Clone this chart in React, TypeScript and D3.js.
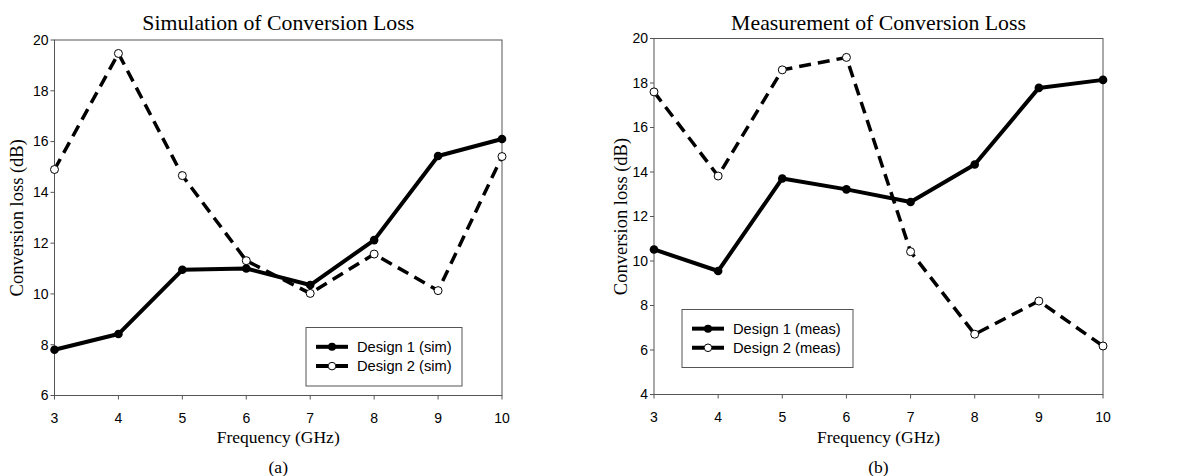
import * as d3 from "d3";

const freqs = [3, 4, 5, 6, 7, 8, 9, 10];

const simDesign1 = [7.8, 8.42, 10.95, 11.0, 10.35, 12.12, 15.43, 16.1];
const simDesign2 = [14.9, 19.47, 14.66, 11.31, 10.02, 11.57, 10.13, 15.41];

const measDesign1 = [10.52, 9.55, 13.71, 13.22, 12.65, 14.34, 17.78, 18.14];
const measDesign2 = [17.6, 13.82, 18.59, 19.15, 10.42, 6.71, 8.2, 6.18];

const simTicks = [6, 8, 10, 12, 14, 16, 18, 20];
const measTicks = [4, 6, 8, 10, 12, 14, 16, 18, 20];

const sansFont = "'Liberation Sans', Arial, sans-serif";
const serifFont = "'Liberation Serif', 'Times New Roman', serif";
const axisColor = "#555";

type PanelProps = {
  left: number;
  right: number;
  top: number;
  bottom: number;
  yDomain: [number, number];
  yTicks: number[];
  d1: number[];
  d2: number[];
  title: string;
  caption: string;
  yLabelX: number;
  legend: { x: number; y: number; w: number; h: number; labels: [string, string] };
};

function Panel({ left, right, top, bottom, yDomain, yTicks, d1, d2, title, caption, yLabelX, legend }: PanelProps) {
  const x = d3.scaleLinear().domain([3, 10]).range([left, right]);
  const y = d3.scaleLinear().domain(yDomain).range([bottom, top]);
  const line = d3
    .line<number>()
    .x((_, i) => x(freqs[i]))
    .y((d) => y(d));
  const cx = (left + right) / 2;
  const row1 = legend.y + legend.h * 0.33;
  const row2 = legend.y + legend.h * 0.66;
  const lx0 = legend.x + 10;
  const lx1 = legend.x + 42;
  const lxm = (lx0 + lx1) / 2;

  return (
    <g>
      <text x={cx} y={30} textAnchor="middle" fontFamily={serifFont} fontSize={21.8}>
        {title}
      </text>
      {/* frame */}
      <rect x={left} y={top} width={right - left} height={bottom - top} fill="none" stroke={axisColor} strokeWidth={1} />
      {/* y ticks */}
      {yTicks.map((t) => (
        <g key={"y" + t}>
          <line x1={left - 4} x2={left} y1={y(t)} y2={y(t)} stroke={axisColor} />
          <text x={left - 6} y={y(t)} dy="0.35em" textAnchor="end" fontFamily={sansFont} fontSize={14}>
            {t}
          </text>
        </g>
      ))}
      {/* x ticks */}
      {freqs.map((f) => (
        <g key={"x" + f}>
          <line x1={x(f)} x2={x(f)} y1={bottom} y2={bottom + 4} stroke={axisColor} />
          <text x={x(f)} y={bottom + 27} textAnchor="middle" fontFamily={sansFont} fontSize={14}>
            {f}
          </text>
        </g>
      ))}
      <text x={cx} y={443} textAnchor="middle" fontFamily={serifFont} fontSize={17.5}>
        Frequency (GHz)
      </text>
      <text x={cx} y={473} textAnchor="middle" fontFamily={serifFont} fontSize={17.5}>
        {caption}
      </text>
      <text
        transform={`translate(${yLabelX},${(top + bottom) / 2}) rotate(-90)`}
        textAnchor="middle"
        fontFamily={serifFont}
        fontSize={18.5}
      >
        Conversion loss (dB)
      </text>
      {/* series */}
      <path d={line(d2) ?? ""} fill="none" stroke="#000" strokeWidth={3.5} strokeDasharray="12,7" />
      <path d={line(d1) ?? ""} fill="none" stroke="#000" strokeWidth={4} strokeLinejoin="round" />
      {d2.map((v, i) => (
        <circle key={"o" + i} cx={x(freqs[i])} cy={y(v)} r={4} fill="#fff" stroke="#000" strokeWidth={1} />
      ))}
      {d1.map((v, i) => (
        <circle key={"f" + i} cx={x(freqs[i])} cy={y(v)} r={4.3} fill="#000" />
      ))}
      {/* legend */}
      <rect x={legend.x} y={legend.y} width={legend.w} height={legend.h} fill="#fff" stroke={axisColor} strokeWidth={1} />
      <line x1={lx0} x2={lx1} y1={row1} y2={row1} stroke="#000" strokeWidth={4} />
      <circle cx={lxm} cy={row1} r={4} fill="#000" />
      <text x={lx1 + 9} y={row1} dy="0.35em" fontFamily={sansFont} fontSize={14.7}>
        {legend.labels[0]}
      </text>
      <line x1={lx0} x2={lx1} y1={row2} y2={row2} stroke="#000" strokeWidth={4} strokeDasharray="12,8" />
      <circle cx={lxm} cy={row2} r={3.8} fill="#fff" stroke="#000" strokeWidth={1} />
      <text x={lx1 + 9} y={row2} dy="0.35em" fontFamily={sansFont} fontSize={14.7}>
        {legend.labels[1]}
      </text>
    </g>
  );
}

export default function App() {
  return (
    <svg
      width={1179}
      height={476}
      style={{ position: "absolute", left: 0, top: 0, background: "#fff" }}
    >
      <Panel
        left={54.5}
        right={502}
        top={40}
        bottom={395.5}
        yDomain={[6, 20]}
        yTicks={simTicks}
        d1={simDesign1}
        d2={simDesign2}
        title="Simulation of Conversion Loss"
        caption="(a)"
        yLabelX={23}
        legend={{ x: 306, y: 327.5, w: 156, h: 58.5, labels: ["Design 1 (sim)", "Design 2 (sim)"] }}
      />
      <Panel
        left={654}
        right={1103}
        top={38.5}
        bottom={394.5}
        yDomain={[4, 20]}
        yTicks={measTicks}
        d1={measDesign1}
        d2={measDesign2}
        title="Measurement of Conversion Loss"
        caption="(b)"
        yLabelX={627}
        legend={{ x: 682, y: 309.5, w: 171, h: 58, labels: ["Design 1 (meas)", "Design 2 (meas)"] }}
      />
    </svg>
  );
}
